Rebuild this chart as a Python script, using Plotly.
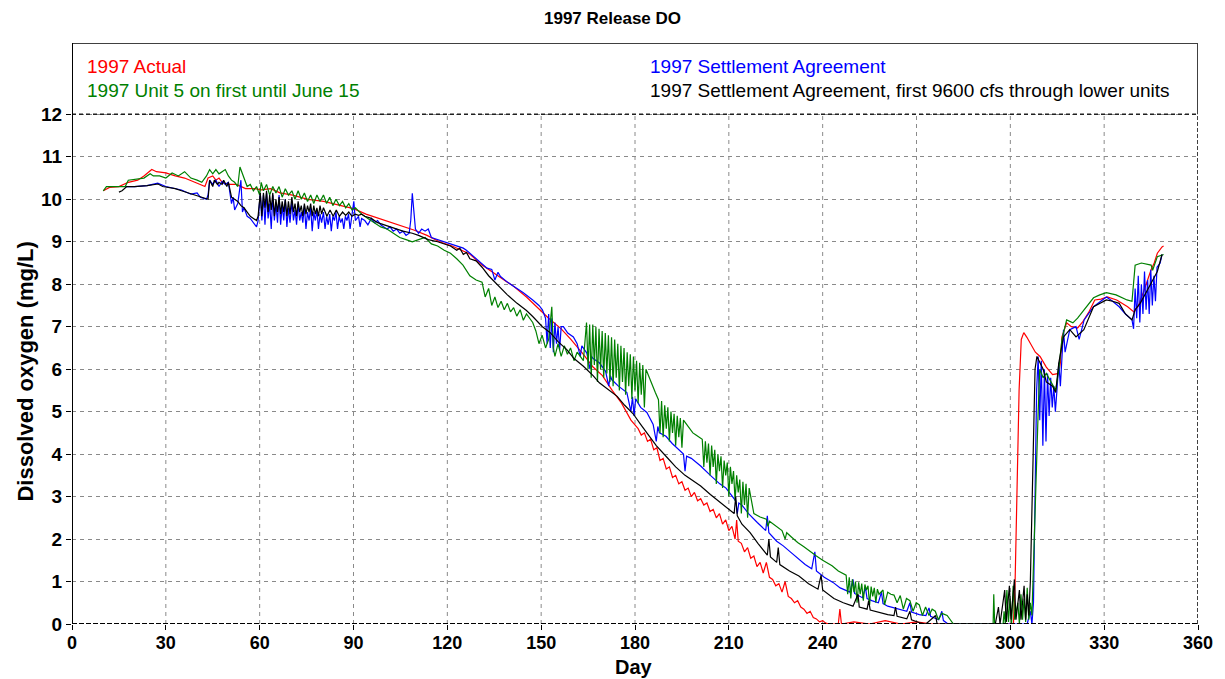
import plotly.graph_objects as go

# ---------------- data ----------------
red_day = [10, 12, 15, 18, 21, 23, 25.5, 27, 30, 33, 36, 39, 41, 42.5, 43.5, 45, 46, 47, 48, 50, 52.5, 55.5, 58.5, 60.5,
           63.5, 66.5, 70.5, 75.5, 80.5, 86, 90, 94, 98, 102, 105.5, 109.5, 113.5, 117.5, 121.5, 124.5, 127, 131.1,
           134.2, 137.2, 141.2, 145.3, 149.3, 152.4, 156.4, 159.5, 163.5, 166.6, 169.6, 172.7, 175.7, 178.7,
           181, 182, 183, 184, 185, 186, 187, 188, 189, 190, 191, 192, 193, 194, 195, 196, 197, 198, 199, 200,
           201, 202, 203, 204, 205, 206, 207, 208, 209, 210, 211, 212, 212.5, 213, 214, 215, 216, 217, 218, 219,
           220, 221, 222, 223, 224, 225, 226, 227, 228, 229, 230, 231, 232, 233, 234, 235, 236, 237, 238, 239,
           240, 241, 242, 245, 245.5, 246, 250, 255, 260, 265, 270, 275, 300, 301, 301.5, 302, 302.8, 303.5,
           304.3, 305.3, 306.5, 308, 309.5, 311.5, 313.5, 315.5, 316, 316.5, 318, 319.5, 321.5, 323, 325, 327,
           329, 331, 334, 336, 337.5, 339.5, 341, 342.5, 345, 346, 347, 348.5, 349]
red_do = [10.2, 10.28, 10.3, 10.4, 10.45, 10.55, 10.7, 10.65, 10.62, 10.55, 10.5, 10.42, 10.35, 10.3, 10.5, 10.55,
          10.45, 10.5, 10.4, 10.35, 10.35, 10.25, 10.25, 10.22, 10.25, 10.15, 10.1, 10.0, 9.95, 9.85, 9.78, 9.65,
          9.55, 9.45, 9.38, 9.27, 9.15, 9.0, 8.9, 8.8, 8.72, 8.45, 8.3, 8.15, 7.95, 7.7, 7.42, 7.2, 6.95, 6.7,
          6.35, 6.05, 5.85, 5.5, 5.2, 4.8,
          4.6, 4.45, 4.5, 4.3, 4.35, 4.1, 4.15, 3.85, 3.9, 3.65, 3.7, 3.45, 3.5, 3.3, 3.35, 3.15, 3.2, 3.0, 3.1, 2.9,
          2.95, 2.8, 2.85, 2.65, 2.7, 2.5, 2.6, 2.35, 2.45, 2.2, 2.3, 2.0, 2.45, 1.95, 1.9, 1.7, 1.8, 1.55, 1.6, 1.35,
          1.45, 1.2, 1.45, 1.1, 1.05, 0.9, 0.95, 0.75, 1.0, 0.65, 0.6, 0.5, 0.55, 0.4, 0.35, 0.25, 0.3, 0.15, 0.12,
          0.05, 0.08, 0.02, 0, 0, 0.35, 0, 0.05, 0, 0.08, 0, 0.05, 0, 0, 0, 0.9, 2.8, 5.5, 6.7,
          6.86, 6.75, 6.6, 6.4, 6.3, 6.05, 5.87, 5.9, 6.15, 6.76, 7.09, 7.0, 6.97, 7.1, 7.33, 7.63,
          7.65, 7.7, 7.63, 7.55, 7.47, 7.35, 7.5, 7.8, 8.34, 8.5, 8.73, 8.88, 8.9]

green_day = [10, 11, 15, 17, 18, 21, 23, 25, 26, 28, 30, 32, 34, 36, 38, 40, 41.5, 43, 44, 45, 46, 47, 48, 49, 50,
             51, 52, 53, 53.7, 54.5, 55, 56, 57, 58, 59, 60, 60.5,
             61.2, 62.2, 63.2, 64.2, 65.2, 66.2, 67.2, 68.2, 69.2, 70.3, 71.3, 72.3, 73.3, 74.3, 75.3, 76.3, 77.3,
             78.3, 79.3, 80.4, 81.4, 82.4, 83.4, 84.4, 85.5, 86.5, 87.5, 88.5, 89.5, 90.6, 92.6, 94.6, 96.7, 98.7,
             100.7, 102.7, 104.8, 106.8, 108.8, 110.8, 112.9, 114.9, 116.9, 119, 121, 123, 125, 127.2, 129.2, 131.1,
             132.1, 133.2, 134.2, 135.2, 136.2, 137.2, 138.2, 139.2, 140.2, 141.2, 142.2, 143.3, 144.3, 145.3, 147.3,
             148.3, 149.3, 150.3, 151.4, 152.4, 153.4, 153.9, 154.4, 155.4, 156.4, 157.4, 158.4, 159.4, 160.5, 161.5,
             162.5, 163.5, 164.5,
             165, 165.5, 166, 166.5, 167, 167.5, 168, 168.5, 169, 169.5, 170, 170.5, 171, 171.5, 172, 172.5, 173,
             173.5, 174, 174.5, 175, 175.5, 176, 176.5, 177, 177.5, 178, 178.5, 179, 179.5, 180, 180.5, 181, 181.5,
             182, 182.5, 183, 183.5, 184.5, 185.5, 186.5, 187.5, 188, 188.5, 189, 189.5, 190, 190.5, 191, 191.5, 192,
             192.5, 193, 193.5, 194, 194.5, 195, 195.5, 196.5, 197.5, 198.5, 199.5, 200.5, 201.5, 202, 202.5, 203,
             203.5, 204, 204.5, 205, 205.5, 206, 206.5, 207, 207.5, 208, 208.5, 209, 209.5, 210, 210.5, 211, 211.5,
             212, 212.5, 213, 213.5, 214, 214.5, 215, 215.5, 216, 216.5, 218, 220, 222, 222.5, 223, 225, 227, 228,
             228.5, 230, 232, 234, 236, 238, 240, 243, 245, 247.5, 248, 248.5, 249, 249.5, 250, 250.5, 251, 251.5,
             252, 252.5, 253, 253.5, 254, 254.5, 255, 255.5, 256, 256.5, 257, 257.5, 258, 259.3, 259.8, 260.8, 261.8,
             262.8, 263.8, 264.8, 265.8, 266.8, 267.9, 268.9, 269.9, 270.9, 271.9, 272.9, 274, 275, 276, 277, 278.1,
             279.8, 281.8, 294.5, 294.7, 295, 297.7, 298, 298.4, 298.9, 299.4, 299.9, 300.4, 300.9, 301.4, 302.4,
             302.9, 303.4, 303.9, 304.4, 304.9, 305.4, 305.9, 306.4, 306.9, 307.4, 307.9, 308.4, 308.9, 309.4,
             310.5, 311.5, 313, 314.5, 315.5, 316.5, 318, 320, 321.5, 324.5, 326.6, 328.6, 330.7, 333.8, 337.3,
             338.9, 339.9, 341.9, 345, 345.5, 347, 349]
green_do = [10.2, 10.3, 10.3, 10.3, 10.45, 10.48, 10.5, 10.6, 10.55, 10.55, 10.5, 10.62, 10.55, 10.65, 10.5, 10.45,
            10.4, 10.55, 10.7, 10.6, 10.7, 10.6, 10.65, 10.7, 10.55, 10.45, 10.4, 10.3, 10.76, 10.6, 10.45, 10.3,
            10.35, 10.2, 10.3, 10.1, 10.4,
            10.2, 10.35, 10.1, 10.3, 10.15, 10.3, 10.05, 10.25, 10.1, 10.2, 10.0, 10.2, 10.0, 10.15, 9.95, 10.1, 9.9,
            10.1, 9.95, 10.1, 9.9, 10.05, 9.85, 10.0, 9.85, 9.95, 9.8, 9.9, 9.75, 9.8, 9.65, 9.55, 9.45, 9.35,
            9.3, 9.2, 9.1, 9.05, 9.0, 9.05, 9.1, 8.95, 8.9, 8.8, 8.73, 8.6, 8.45, 8.2, 8.1, 8.05,
            7.7, 7.9, 7.5, 7.7, 7.45, 7.6, 7.4, 7.55, 7.35, 7.45, 7.25, 7.4, 7.15, 7.3, 7.1,
            6.9, 6.6, 6.8, 6.5, 6.7, 7.47, 6.5, 6.3, 6.6, 6.3, 6.55, 6.35, 6.5, 6.2, 6.4,
            6.3, 6.2, 7.1,
            6.0, 7.05, 5.8, 7.05, 6.1, 7.0, 5.7, 6.95, 6.0, 6.9, 5.8, 6.85, 5.9, 6.8, 5.7, 6.75, 5.6,
            6.7, 5.8, 6.6, 5.5, 6.55, 5.7, 6.5, 5.4, 6.4, 5.6, 6.35, 5.3, 6.3, 5.5, 6.2, 5.2, 6.15,
            5.4, 6.1, 5.1, 6.0, 5.8, 5.6, 5.45, 5.28, 4.5, 5.25, 4.4, 5.15, 4.6, 5.1, 4.3, 5.0, 4.5,
            4.95, 4.2, 4.9, 4.4, 4.85, 4.15, 4.8, 4.7, 4.6, 4.5, 4.45, 4.4, 4.35, 3.7, 4.3, 3.8,
            4.25, 3.5, 4.2, 3.7, 4.1, 3.3, 4.0, 3.6, 3.95, 3.2, 3.85, 3.5, 3.8, 3.0, 3.7, 3.3, 3.6,
            2.9, 3.5, 3.1, 3.4, 2.6, 3.35, 2.8, 3.3, 2.5, 3.2, 2.6, 2.52, 2.47, 2.3, 2.42, 2.3, 2.2, 2.0,
            2.15, 2.05, 1.92, 1.82, 1.7, 1.6, 1.5, 1.37, 1.25, 1.15, 0.7, 1.1, 0.6, 1.05, 0.75, 1.0, 0.5, 0.98,
            0.7, 0.95, 0.55, 0.93, 0.8, 0.9, 0.45, 0.88, 0.65, 0.85, 0.5, 0.82, 0.7, 0.8, 0.45, 0.75, 0.7,
            0.68, 0.5, 0.67, 0.35, 0.6, 0.55, 0.3, 0.5, 0.45, 0.2, 0.4, 0.2, 0.35, 0.3, 0.1, 0.25,
            0.2, 0, 0, 0.7, 0, 0, 0.3, 0, 0.8, 0.05, 0.6, 0, 0.9, 0.1, 0.5,
            0, 0.7, 0.1, 0.6, 0.05, 0.85, 0.1, 0.5, 0.2, 1.5, 2.5, 4.0, 5.0, 6.0,
            5.8, 5.9, 5.7, 5.5, 6.0, 6.7, 7.16, 7.09, 7.2, 7.47, 7.68, 7.75, 7.8, 7.75, 7.63,
            7.6, 8.45, 8.5, 8.45, 8.33, 8.65, 8.7]

blue_day = [17, 20, 24, 27.4, 30, 33, 35, 38, 40, 41, 43, 43.5, 44, 45, 46, 47, 48, 49, 50, 51, 51.5, 52, 53, 54,
            54.5, 55, 56, 57, 58, 59, 59.5, 60.2,
            60.7, 61.2, 61.7, 62.2, 62.7, 63.2, 63.7, 64.2, 64.7, 65.2, 65.7, 66.2, 66.7, 67.2, 67.7, 68.2, 68.7,
            69.2, 69.7, 70.3, 70.8, 71.3, 71.8, 72.3, 72.8, 73.3, 73.8, 74.3, 74.8, 75.3, 75.8, 76.3, 76.8, 77.3,
            77.8, 78.3, 78.8, 79.3, 79.8, 80.4, 80.9, 81.4, 81.9, 82.4, 82.9, 83.4, 83.9, 84.4, 84.9, 85.4, 85.9,
            86.4, 86.9, 87.4, 87.9, 88.4, 88.9, 89.4, 90.1, 90.6, 91.6, 92.1, 92.6, 93.6, 94.6, 95.7, 96.7, 97.7,
            98.7, 99.7, 100.7, 101.7, 102.7, 103.8, 104.8, 105.8, 106.8, 107.8, 108.3, 108.8, 109.3, 109.8, 110.8,
            111.8, 112.9, 113.9, 114.9, 116.9, 118.9, 121, 123, 125.1, 126.1, 129.2, 132.7, 134.2, 135.2, 136.2,
            137, 139.2, 142.3, 144.3, 147.3, 149.3, 150.4, 151.4, 151.9, 152.4, 152.9, 153.4, 153.9, 154.4, 154.9,
            155.4, 155.9, 156.4, 157.1, 158.5, 160.3, 161.5, 162.5, 163, 164.6, 165.6, 166.1, 166.6, 168.6, 170.6,
            171.6, 172.1, 172.6, 174.7, 177.4, 178.7, 179.2, 179.7, 180.2, 181.8, 183.8, 185.8, 186.8, 187.3, 187.8,
            189.9, 191.9, 193.9, 195.5, 196, 196.5, 198, 201, 204.1, 207.1, 209.1, 211.2, 212.2, 212.7, 213.2, 214.2,
            216.3, 219.1, 220.3, 221.8, 222.3, 222.8, 225.3, 227.4, 230.4, 232.4, 234.4, 236.5, 237.5, 238, 240.5,
            243.3, 245.6, 248.7, 249.7, 250.2, 252.7, 253.7, 254.2, 255.7, 257.8, 258.8, 259.3, 260.8, 262.8, 264.8,
            266.9, 267.9, 268.4, 270.9, 273, 274, 274.5, 277.1, 278.1, 278.6, 280.1, 293, 305.4, 306.4, 306.9,
            307.4, 307.9, 308.4, 308.9, 309.4, 309.9, 310.4, 310.9, 311.4, 311.9, 312.4, 312.9, 313.4, 313.9, 314.4,
            314.9, 315.5, 316, 317, 317.5, 319, 321, 322, 323.6, 326.6, 330.7, 332.7, 334.8, 336.8, 338.9, 339.4,
            339.9, 340.4, 340.9, 341.4, 341.9, 342.4, 342.9, 343.4, 343.9, 344.4, 344.9, 345.4, 345.9, 346.4, 346.9,
            347.9, 348.5]
blue_do = [10.3, 10.3, 10.32, 10.38, 10.3, 10.25, 10.22, 10.12, 10.15, 10.05, 10.0, 10.1, 10.45, 10.35, 10.45, 10.3,
           10.42, 10.35, 10.4, 9.9, 10.05, 9.75, 9.9, 10.45, 9.7, 9.8, 9.6, 9.55, 9.45, 9.35, 9.5, 10.15,
           9.5, 10.1, 9.4, 10.15, 9.55, 9.9, 9.3, 10.1, 9.5, 9.9, 9.45, 10.1, 9.4, 9.85, 9.5, 10.0, 9.35,
           9.8, 9.45, 9.95, 9.5, 9.75, 9.4, 9.9, 9.5, 9.7, 9.45, 9.85, 9.3, 9.7, 9.5, 9.8, 9.25, 9.7,
           9.5, 9.75, 9.3, 9.65, 9.45, 9.7, 9.3, 9.6, 9.4, 9.65, 9.25, 9.6, 9.5, 9.7, 9.3, 9.6, 9.45,
           9.55, 9.3, 9.6, 9.5, 9.65, 9.3, 9.55, 9.95, 9.5, 9.6, 9.35, 9.55, 9.5, 9.4, 9.55, 9.45, 9.5,
           9.4, 9.35, 9.3, 9.35, 9.25, 9.3, 9.2, 9.25, 9.15, 9.2, 9.5, 10.14, 9.6, 9.3, 9.2,
           9.3, 9.25, 9.3, 9.1, 9.05, 9.0, 8.95, 8.9, 8.85, 8.8, 8.6, 8.38, 8.35, 8.1, 8.28,
           8.18, 8.05, 7.9, 7.8, 7.63, 7.5, 7.4, 7.2, 6.6, 7.3, 6.5, 7.2, 6.4, 7.1, 6.6,
           7.0, 6.45, 7.0, 7.0, 6.85, 6.76, 6.6, 6.3, 6.55, 6.38, 6.0, 6.3, 6.25, 6.15, 5.95,
           5.6, 5.85, 5.75, 5.6, 5.45, 5.0, 5.35, 4.9, 5.3, 5.1, 4.98, 4.7, 4.3, 4.65, 4.5,
           4.42, 4.25, 4.1, 4.0, 3.6, 3.95, 3.9, 3.72, 3.5, 3.3, 3.2, 3.0, 2.9, 2.6, 2.85, 2.8,
           2.6, 2.39, 2.3, 2.2, 2.55, 2.15, 1.95, 1.84, 1.65, 1.53, 1.4, 1.3, 1.7, 1.25, 1.1,
           0.98, 0.85, 0.75, 1.05, 0.72, 0.62, 0.85, 0.6, 0.55, 0.5, 0.75, 0.48, 0.42, 0.38, 0.35,
           0.3, 0.5, 0.28, 0.22, 0.2, 0.38, 0.18, 0.1, 0.3, 0.08, 0, 0, 0, 0.3, 0,
           0.5, 3.0, 5.5, 6.3, 4.8, 6.2, 4.2, 6.0, 4.3, 5.9, 4.9, 5.8, 5.1, 5.6, 5.0,
           5.5, 6.15, 5.6, 6.93, 6.4, 6.93, 7.0, 6.7, 7.16, 7.47, 7.7, 7.6, 7.47, 7.3, 7.16, 6.95,
           7.9, 7.2, 8.2, 7.1, 8.0, 7.3, 8.3, 7.4, 8.1, 7.3, 8.34, 7.5, 8.2, 7.6, 8.4,
           8.5, 8.7]

black_day = [15, 16, 17.5, 20, 24, 27.5, 29, 31, 33, 35, 37, 39, 41, 43, 43.5, 44, 45, 45.5, 46.5, 47, 48, 48.5,
             49.5, 50, 51, 52, 53, 54, 55, 56, 57, 58, 59, 59.5, 60.2,
             60.7, 61.2, 61.7, 62.2, 62.7, 63.2, 63.7, 64.2, 64.7, 65.2, 65.7, 66.2, 66.7, 67.2, 67.7, 68.2, 68.7,
             69.2, 69.7, 70.3, 70.8, 71.3, 71.8, 72.3, 72.8, 73.3, 73.8, 74.3, 74.8, 75.3, 75.8, 76.3, 76.8, 77.3,
             77.8, 78.3, 78.8, 79.3, 79.8, 80.4, 81.5, 82.5, 83.5, 84.5, 85.5, 86.5, 87.5, 88.5, 89.5, 90.6, 91.6,
             92.6, 93.6, 95.7, 97.7, 99.7, 101.7, 103.8, 105.8, 108.8, 110.8, 113.9, 116.9, 121, 123, 124, 125.1,
             126.1, 127.2, 129.2, 131.1, 133.2, 135.2, 137.2, 139.2, 142.3, 145.3, 147.3, 150.4, 152.9, 155.4, 158.2,
             160.5, 163.5, 166.6, 168.6, 171.6, 174.3, 176.7, 179.4, 181.8, 184.8, 186.8, 189.9, 193, 196, 199, 201,
             204.1, 207.1, 210.2, 211.7, 212.2, 212.7, 214.2, 216.8, 219.3, 222.3, 222.8, 223.3, 225.3, 225.8,
             226.3, 229.4, 232.4, 235.5, 238.5, 239.5, 240, 243.6, 246.6, 249.7, 251.3, 251.7, 254.2, 254.7, 255.2,
             257.8, 260.8, 262.8, 263.3, 263.8, 264.8, 266.9, 267.9, 268.4, 271, 273, 276.1, 276.6, 281, 293.2,
             295.2, 296.2, 296.7, 298.2, 298.7, 299.7, 300.2, 301.3, 301.8, 302.9, 303.4, 304.4, 304.9, 305.4,
             305.9, 306.4, 306.9, 307.4, 307.9, 308.5, 310.5, 311.5, 313.5, 314.5, 315.5, 317, 319, 321, 323.5,
             326.6, 328.6, 330.7, 332.7, 334.8, 336.8, 338.9, 339.9, 341.5, 343.8, 346.2, 347, 348.5]
black_do = [10.17, 10.2, 10.3, 10.3, 10.32, 10.36, 10.3, 10.28, 10.25, 10.2, 10.15, 10.1, 10.05, 10.0, 10.0, 10.45,
            10.3, 10.45, 10.35, 10.4, 10.35, 10.45, 10.3, 10.4, 10.05, 10.0, 9.95, 9.85, 9.8, 9.7, 9.6, 9.55,
            9.5, 9.6, 10.15,
            9.6, 10.15, 9.8, 10.2, 9.7, 10.1, 9.75, 10.15, 9.6, 10.0, 9.7, 10.05, 9.65, 9.95, 9.7, 10.0, 9.6,
            9.95, 9.65, 10.05, 9.7, 9.9, 9.6, 9.95, 9.7, 9.85, 9.6, 9.9, 9.65, 9.85, 9.7, 9.9, 9.6, 9.85,
            9.65, 9.8, 9.6, 9.85, 9.65, 9.8, 9.6, 9.75, 9.6, 9.75, 9.6, 9.7, 9.62, 9.7, 9.6, 9.65, 9.62,
            9.65, 9.6, 9.55, 9.45, 9.4, 9.35, 9.3, 9.25, 9.2, 9.15, 9.05, 9.0, 8.9, 8.8, 8.85, 8.7,
            8.75, 8.6, 8.55, 8.4, 8.2, 8.05, 7.92, 7.75, 7.55, 7.38, 7.24, 7.0, 6.86, 6.65, 6.46,
            6.25, 6.07, 5.85, 5.68, 5.5, 5.36, 5.15, 4.95, 4.7, 4.4, 4.2, 3.95, 3.7, 3.5, 3.35, 3.25,
            3.05, 2.88, 2.7, 2.6, 3.0, 2.55, 2.35, 2.15, 1.9, 1.62, 2.0, 1.58, 1.45, 1.8,
            1.4, 1.25, 1.13, 0.95, 0.82, 1.15, 0.8, 0.6, 0.5, 0.42, 0.7, 0.4, 0.35, 0.55, 0.33,
            0.28, 0.22, 0.2, 0.4, 0.18, 0.16, 0.12, 0.3, 0.1, 0.03, 0.0, 0.2, 0, 0, 0,
            0, 0.4, 0, 0.8, 0.05, 0.9, 0.1, 1.05, 0.1, 0.8, 0.1, 0.9, 0.1, 0.7,
            0.2, 1.0, 2.5, 4.5, 6.0, 6.3, 6.0, 5.7, 5.6, 5.45, 6.15, 6.76, 6.93, 6.76, 6.93,
            7.47, 7.55, 7.63, 7.6, 7.55, 7.3, 7.16, 7.4, 7.55, 7.86, 8.17, 8.3, 8.7]

x_ticks = [0, 30, 60, 90, 120, 150, 180, 210, 240, 270, 300, 330, 360]
y_ticks = [0, 1, 2, 3, 4, 5, 6, 7, 8, 9, 10, 11, 12]

series = [
    ("1997 Actual", red_day, red_do, "#ff0000"),
    ("1997 Unit 5 on first until June 15", green_day, green_do, "#008000"),
    ("1997 Settlement Agreement", blue_day, blue_do, "#0000ff"),
    ("1997 Settlement Agreement, first 9600 cfs through lower units", black_day, black_do, "#000000"),
]

# ---------------- figure ----------------
fig = go.Figure()
# draw order: red, blue, green, black (black on top)
for idx in [0, 2, 1, 3]:
    name, d, v, c = series[idx]
    fig.add_trace(go.Scatter(x=d, y=v, mode="lines", name=name,
                             line=dict(color=c, width=1.2), showlegend=False))

FONT = "Liberation Sans, Arial, sans-serif"
YMAX = 13.68

# page body has an 8px margin: plot area lands at x 72..1198, y 43..624
fig.update_layout(
    width=1225, height=679,
    margin=dict(l=64, r=35, t=35, b=63),
    paper_bgcolor="white", plot_bgcolor="white",
    font=dict(family=FONT, color="black"),
    xaxis=dict(range=[0, 360], tickvals=x_ticks, showgrid=False, zeroline=False,
               ticks="outside", ticklen=5, tickwidth=1, tickcolor="black",
               ticklabelstandoff=-3,
               tickfont=dict(family=FONT, size=18, color="black", weight="bold"),
               showline=False),
    yaxis=dict(range=[0, YMAX], tickvals=y_ticks, showgrid=True, gridcolor="#8a8a8a",
               griddash="4px,4px", gridwidth=1, zeroline=False,
               ticks="outside", ticklen=5, tickwidth=1, tickcolor="black",
               tickfont=dict(family=FONT, size=19, color="black", weight="bold"),
               showline=False),
)

shapes = []
# vertical grid lines only up to y=12
for xv in x_ticks[1:-1]:
    shapes.append(dict(type="line", xref="x", yref="y", x0=xv, x1=xv, y0=0, y1=12,
                       line=dict(color="#8a8a8a", width=1, dash="4px,4px"), layer="below"))
# y=12 dark dashed separator
shapes.append(dict(type="line", xref="x", yref="y", x0=0, x1=360, y0=12, y1=12,
                   line=dict(color="#202020", width=1.5, dash="4px,3px")))
# bottom axis dashed black
shapes.append(dict(type="line", xref="x", yref="y", x0=0, x1=360, y0=0, y1=0,
                   line=dict(color="black", width=2, dash="5px,2px")))
# right border: dashed below 12, solid above
shapes.append(dict(type="line", xref="x", yref="y", x0=360, x1=360, y0=0, y1=12,
                   line=dict(color="#404040", width=2, dash="4px,2px")))
shapes.append(dict(type="line", xref="x", yref="y", x0=360, x1=360, y0=12, y1=YMAX,
                   line=dict(color="#404040", width=2)))
# top border
shapes.append(dict(type="line", xref="x", yref="y", x0=0, x1=360, y0=YMAX, y1=YMAX,
                   line=dict(color="#404040", width=2)))
# left axis solid
shapes.append(dict(type="line", xref="x", yref="y", x0=0, x1=0, y0=0, y1=YMAX,
                   line=dict(color="black", width=2)))
fig.update_layout(shapes=shapes)

ann = []
ann.append(dict(text="<b>1997 Release DO</b>", xref="paper", yref="paper", x=0.4796, y=1.043,
                showarrow=False, font=dict(size=17, family=FONT, color="black"),
                xanchor="center", yanchor="middle"))
ann.append(dict(text="<b>Dissolved oxygen (mg/L)</b>", xref="paper", yref="paper", x=-0.0417, y=0.4346,
                showarrow=False, textangle=-90, font=dict(size=22, family=FONT, color="black"),
                xanchor="center", yanchor="middle"))
ann.append(dict(text="<b>Day</b>", xref="paper", yref="paper", x=0.499, y=-0.0735,
                showarrow=False, font=dict(size=20, family=FONT, color="black"),
                xanchor="center", yanchor="middle"))
legend_pos = [(0.01155, 0.9587), (0.01155, 0.9174), (0.5115, 0.9587), (0.5115, 0.9174)]
for (name, d, v, c), (lx, ly) in zip(series, legend_pos):
    ann.append(dict(text=name, xref="paper", yref="paper", x=lx, y=ly, showarrow=False,
                    font=dict(size=19, family=FONT, color=c), xanchor="left", yanchor="middle"))
fig.update_layout(annotations=ann)

fig.write_html("out.html")
